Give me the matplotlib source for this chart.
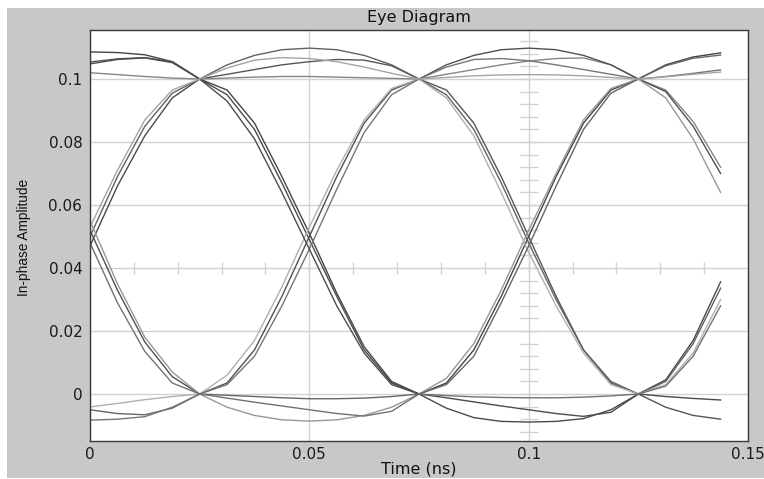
import matplotlib
matplotlib.use("Agg")
import matplotlib.pyplot as plt
import numpy as np
from matplotlib.patches import Rectangle

plt.rcParams['font.family'] = ['DejaVu Sans']

# sample instants of each trace (ns)
time_ns = [0, 0.00625, 0.0125, 0.01875, 0.025, 0.03125, 0.0375, 0.04375,
           0.05, 0.05625, 0.0625, 0.06875, 0.075, 0.08125, 0.0875, 0.09375,
           0.1, 0.10625, 0.1125, 0.11875, 0.125, 0.13125, 0.1375, 0.14375]

trace_1 = [0.1086, 0.1084, 0.1077, 0.1055, 0.1, 0.0965, 0.086, 0.069, 0.051, 0.032, 0.015, 0.004,
           0, 0.0035, 0.014, 0.031, 0.05, 0.069, 0.086, 0.0965, 0.1, 0.1045, 0.107, 0.1083]
trace_2 = [0.1054, 0.1064, 0.1068, 0.1055, 0.1, 0.1015, 0.103, 0.1045, 0.1055, 0.1062, 0.106, 0.1042,
           0.1, 0.0965, 0.086, 0.069, 0.05, 0.031, 0.014, 0.0035, 0, -0.0042, -0.0068, -0.008]
trace_3 = [0.102, 0.1014, 0.1008, 0.1003, 0.1, 0.1003, 0.1006, 0.1008, 0.1008, 0.1006, 0.1004, 0.1002,
           0.1, 0.1015, 0.103, 0.1045, 0.1057, 0.1065, 0.1067, 0.1045, 0.1, 0.0965, 0.0865, 0.072]
trace_4 = [0.047, 0.066, 0.082, 0.094, 0.1, 0.095, 0.084, 0.067, 0.049, 0.031, 0.014, 0.0035,
           0, -0.0045, -0.0075, -0.0087, -0.0089, -0.0087, -0.0078, -0.005, 0, 0.0045, 0.017, 0.0356]
trace_5 = [0.05, 0.069, 0.085, 0.0955, 0.1, 0.1045, 0.1075, 0.1093, 0.1098, 0.1093, 0.1075, 0.1045,
           0.1, 0.095, 0.084, 0.067, 0.048, 0.03, 0.014, 0.004, 0, 0.004, 0.016, 0.0336]
trace_6 = [0.052, 0.033, 0.0165, 0.0055, 0, 0.0035, 0.014, 0.031, 0.05, 0.069, 0.086, 0.0965,
           0.1, 0.1045, 0.1075, 0.1093, 0.1098, 0.1093, 0.1075, 0.1045, 0.1, 0.096, 0.085, 0.07]
trace_7 = [0.055, 0.035, 0.018, 0.007, 0, -0.0042, -0.0068, -0.0082, -0.0086, -0.0082, -0.0068, -0.0042,
           0, 0.005, 0.016, 0.033, 0.052, 0.07, 0.087, 0.097, 0.1, 0.094, 0.081, 0.064]
trace_8 = [-0.0041, -0.003, -0.0018, -0.0008, 0, 0.006, 0.017, 0.034, 0.053, 0.071, 0.087, 0.097,
           0.1, 0.094, 0.082, 0.064, 0.045, 0.028, 0.013, 0.003, 0, 0.003, 0.013, 0.03]
trace_9 = [-0.005, -0.0062, -0.0066, -0.0045, 0, -0.0004, -0.0008, -0.0012, -0.0015, -0.0015, -0.0013, -0.0008,
           0, 0.003, 0.012, 0.029, 0.047, 0.066, 0.084, 0.0955, 0.1, 0.1042, 0.1066, 0.1076]
trace_10 = [-0.0083, -0.008, -0.0072, -0.0042, 0, 0.003, 0.012, 0.028, 0.046, 0.065, 0.083, 0.095,
            0.1, 0.1038, 0.1062, 0.1065, 0.1058, 0.1045, 0.103, 0.1015, 0.1, 0.1008, 0.1018, 0.1029]
trace_11 = [0.1048, 0.1062, 0.1067, 0.1052, 0.1, 0.093, 0.081, 0.064, 0.046, 0.028, 0.013, 0.003,
            0, -0.0012, -0.0025, -0.0038, -0.005, -0.0062, -0.0071, -0.0058, 0, -0.0008, -0.0014, -0.0019]
trace_12 = [0.053, 0.071, 0.087, 0.0965, 0.1, 0.1035, 0.106, 0.1068, 0.1065, 0.1055, 0.1038, 0.1018,
            0.1, 0.1005, 0.101, 0.1013, 0.1014, 0.1013, 0.101, 0.1005, 0.1, 0.1007, 0.1015, 0.1022]
trace_13 = [0.048, 0.029, 0.0135, 0.0035, 0, -0.0013, -0.0026, -0.0038, -0.005, -0.0062, -0.007, -0.0055,
            0, -0.0005, -0.0009, -0.0011, -0.0012, -0.0012, -0.001, -0.0006, 0, 0.0025, 0.012, 0.028]

traces = [trace_1, trace_2, trace_3, trace_4, trace_5, trace_6, trace_7,
          trace_8, trace_9, trace_10, trace_11, trace_12, trace_13]
trace_colors = ['#454545', '#555555', '#858585', '#4a4a4a', '#626262', '#505050', '#989898',
                '#b0b0b0', '#666666', '#767676', '#4c4c4c', '#a4a4a4', '#727272']

x_ticks = [0, 0.05, 0.1, 0.15]
x_tick_labels = ['0', '0.05', '0.1', '0.15']
y_ticks = [0, 0.02, 0.04, 0.06, 0.08, 0.1]
y_tick_labels = ['0', '0.02', '0.04', '0.06', '0.08', '0.1']

W, H = 764, 479
fig = plt.figure(figsize=(W / 100, H / 100), dpi=100, facecolor='white')
fig.patches.append(Rectangle((7 / W, 1 - 478 / H), (W - 7) / W, (478 - 8) / H,
                             transform=fig.transFigure, facecolor='#c8c8c8',
                             edgecolor='none', zorder=-10))

ax = fig.add_axes([90 / W, 1 - 441 / H, (748 - 90) / W, (441 - 30) / H])
ax.set_facecolor('white')
ax.set_xlim(0, 0.15)
ax.set_ylim(-0.01492, 0.11556)

grid_c = '#d2d2d2'
ax.set_xticks(x_ticks)
ax.set_xticklabels(x_tick_labels)
ax.set_yticks(y_ticks)
ax.set_yticklabels(y_tick_labels)
ax.grid(True, color=grid_c, linewidth=1.0)
ax.set_axisbelow(True)
ax.tick_params(length=0, labelsize=11, colors='#1a1a1a')
ax.tick_params(axis='y', pad=5.5)
ax.tick_params(axis='x', pad=4.5)

# crosshair tick decorations
h_ticks = np.arange(1, 15) * 0.01
ax.plot(h_ticks, [0.04] * len(h_ticks), linestyle='none', marker='|',
        markersize=8, markeredgewidth=1.0, color=grid_c, zorder=0.5)
v_ticks = np.arange(-3, 29) * 0.004
ax.plot([0.1] * len(v_ticks), v_ticks, linestyle='none', marker='_',
        markersize=12.5, markeredgewidth=1.0, color=grid_c, zorder=0.5)

for tr, c in zip(traces, trace_colors):
    ax.plot(time_ns, tr, color=c, linewidth=1.0, zorder=2)

for s in ax.spines.values():
    s.set_color('#3a3a3a')
    s.set_linewidth(1.0)

fig.text((90 + 748) / 2 / W, 1 - 22 / H, 'Eye Diagram', ha='center', va='baseline',
         fontsize=11.5, color='#111111')
fig.text((90 + 748) / 2 / W, 1 - 473 / H, 'Time (ns)', ha='center', va='baseline',
         fontsize=11.5, color='#111111')
fig.text(24 / W, 1 - 237 / H, 'In-phase Amplitude', ha='center', va='center',
         rotation=90, fontsize=9.8, color='#111111', family=['Liberation Sans', 'DejaVu Sans'])

fig.savefig('out.png', dpi=100, facecolor=fig.get_facecolor())
